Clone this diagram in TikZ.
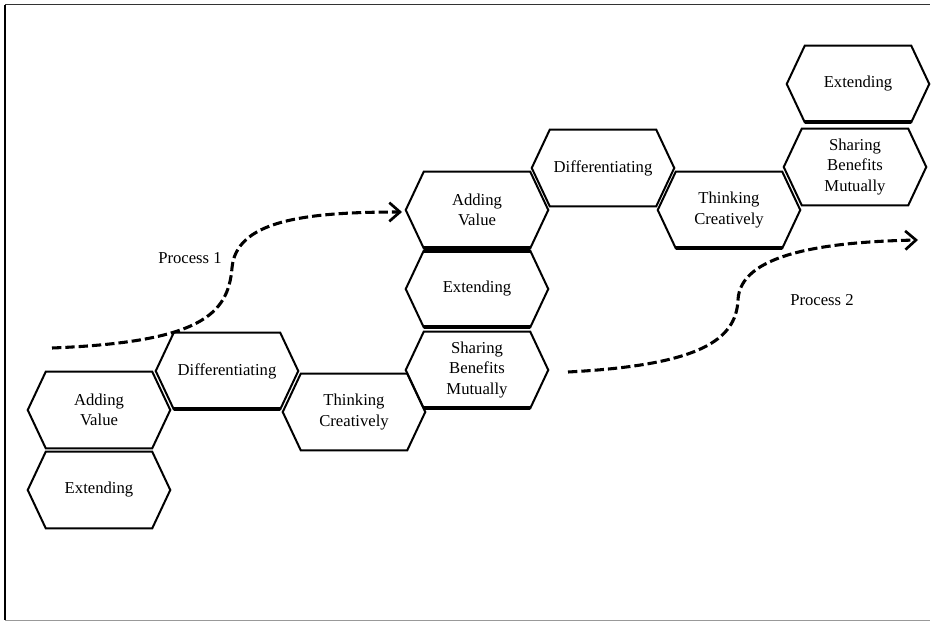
\documentclass[tikz,border=0pt]{standalone}
\usepackage{fontspec}
\setmainfont{Liberation Serif}
\usetikzlibrary{arrows.meta,calc}
\tikzset{
  hexbox/.style={minimum width=79.5pt, minimum height=57pt, inner sep=0pt, align=center,
    font=\fontsize{12.5}{15.5}\selectfont},
  hexline/.style={line width=1.5pt, line join=miter},
  thickedge/.style={line width=3pt},
  procarrow/.style={line width=2.3pt, dash pattern=on 7pt off 3pt,
    -{Straight Barb[length=8pt,width=14pt,line width=2pt]}},
  proclabel/.style={font=\fontsize{12.5}{15}\selectfont},
  frameline/.style={line width=1pt, draw=black!80}
}
\newcommand{\hexnode}[4]{%
  \node[hexbox] (#1) at (#2,#3) {#4};
  \draw[hexline] (#1.north west) -- (#1.north east) -- ($(#1.east)+(18,0)$) --
    (#1.south east) -- (#1.south west) -- ($(#1.west)+(-18,0)$) -- cycle;}
\begin{document}
\begin{tikzpicture}[x=0.75pt,y=-0.75pt]
\useasboundingbox (0,0) rectangle (932,624);
% frame
\draw[line width=1.6pt] (5,5) -- (5,620);
\draw[frameline] (5,4.5) -- (930,4.5);
\draw[line width=0.6pt, draw=black!40] (5,620) -- (930,620);
% left group
\hexnode{av1}{99}{410}{Adding\\Value}
\hexnode{ex1}{99}{490}{Extending}
\hexnode{df1}{227}{371}{Differentiating}
\hexnode{tc1}{354}{412}{Thinking\\Creatively}
% middle column
\hexnode{av2}{477}{210}{Adding\\Value}
\hexnode{ex2}{477}{289}{Extending}
\hexnode{sb1}{477}{370}{Sharing\\Benefits\\Mutually}
% upper right
\hexnode{df2}{603}{168}{Differentiating}
\hexnode{tc2}{729}{210}{Thinking\\Creatively}
\hexnode{sb2}{855}{167}{Sharing\\Benefits\\Mutually}
\hexnode{ex3}{858}{84}{Extending}
% thick edges
\draw[thickedge] (df1.south west) -- (df1.south east);
\draw[thickedge] (av2.south west) -- (av2.south east);
\draw[thickedge] (ex2.north west) -- (ex2.north east);
\draw[thickedge] (ex2.south west) -- (ex2.south east);
\draw[thickedge] (sb1.south west) -- (sb1.south east);
\draw[thickedge] (tc2.south west) -- (tc2.south east);
\draw[thickedge] (ex3.south west) -- (ex3.south east);
% process arrows
\coordinate (p1s) at (52,348);
\coordinate (p1m) at (232,268);
\coordinate (p1e) at (402,212);
\draw[procarrow] (p1s) .. controls (200,342) and (228,315) .. (p1m)
  .. controls (236,222) and (300,212) .. (p1e);
\coordinate (p2s) at (568,372);
\coordinate (p2m) at (738,300);
\coordinate (p2e) at (918,240);
\draw[procarrow] (p2s) .. controls (700,365) and (736,340) .. (p2m)
  .. controls (740,255) and (820,242) .. (p2e);
\node[proclabel] (l1) at (190,258) {Process 1};
\node[proclabel] (l2) at (822,300) {Process 2};
\end{tikzpicture}
\end{document}
